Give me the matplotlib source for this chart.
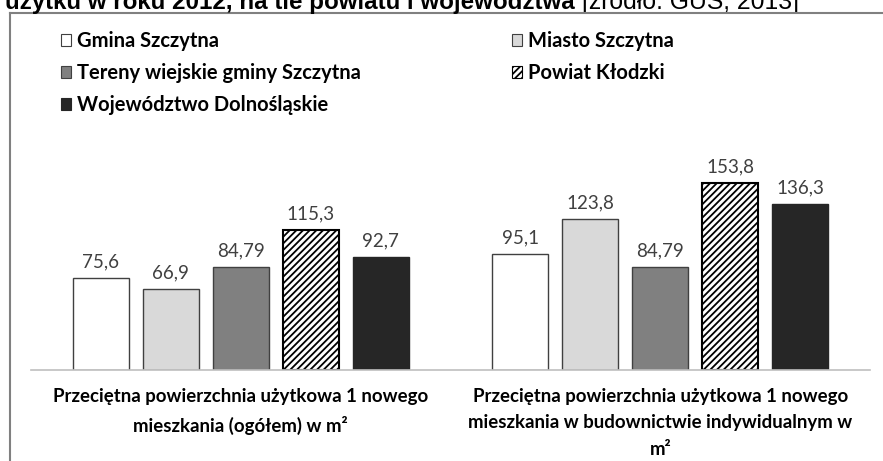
import matplotlib
matplotlib.use("Agg")
import matplotlib.pyplot as plt
from matplotlib.patches import Patch
from matplotlib.lines import Line2D
import numpy as np

categories = [
    "Przeciętna powierzchnia użytkowa 1 nowego\nmieszkania (ogółem) w m²",
    "Przeciętna powierzchnia użytkowa 1 nowego\nmieszkania w budownictwie indywidualnym w\nm²",
]
series_names = ["Gmina Szczytna", "Miasto Szczytna", "Tereny wiejskie gminy Szczytna",
                "Powiat Kłodzki", "Województwo Dolnośląskie"]
gmina = [75.6, 95.1]
miasto = [66.9, 123.8]
tereny = [84.79, 84.79]
powiat = [115.3, 153.8]
wojewodztwo = [92.7, 136.3]
value_labels = [["75,6", "95,1"], ["66,9", "123,8"], ["84,79", "84,79"],
                ["115,3", "153,8"], ["92,7", "136,3"]]

series = [gmina, miasto, tereny, powiat, wojewodztwo]
faces = ["white", "#d9d9d9", "#808080", "white", "#262626"]
edges = ["#404040", "#404040", "#404040", "black", "#262626"]
hatches = [None, None, None, "/////", None]
lws = [1.0, 1.0, 1.0, 1.5, 1.0]

FONT = ["Lato", "DejaVu Sans"]
plt.rcParams["font.family"] = FONT
plt.rcParams["hatch.linewidth"] = 1.3

W, H = 883, 461
fig = plt.figure(figsize=(W / 100, H / 100), dpi=100)
ax = fig.add_axes([30.75 / W, (H - 370) / H, 839.5 / W, 219 / H])

x = np.arange(len(categories))
pitch = 70 / 420
width = 56 / 420
for j, (vals, fc, ec, ht, lw) in enumerate(zip(series, faces, edges, hatches, lws)):
    pos = x + (j - 2) * pitch
    ax.bar(pos, vals, width=width, facecolor=fc, edgecolor=ec, hatch=ht,
           linewidth=lw, label=series_names[j], zorder=2)
    for p, v, t in zip(pos, vals, value_labels[j]):
        ax.annotate(t, (p, v), xytext=(0, 5.5), textcoords="offset points",
                    ha="center", va="bottom", fontsize=13.5, color="#404040")

ax.set_xlim(-0.5, 1.5)
ax.set_ylim(0, 180)
ax.set_yticks([])
ax.set_xticks(x)
ax.set_xticklabels(categories, fontsize=13.4, fontweight="bold", linespacing=1.67)
ax.tick_params(axis="x", length=0, pad=13)
for s in ["top", "right", "left"]:
    ax.spines[s].set_visible(False)
ax.spines["bottom"].set_color("#bfbfbf")
ax.spines["bottom"].set_linewidth(1.2)
ax.patch.set_visible(False)

# legend (two columns, row-wise ordering)
handles = [Patch(facecolor=fc, edgecolor=ec, hatch=ht, linewidth=0.8)
           for fc, ec, ht in zip(faces, edges, hatches)]
col1 = [0, 2, 4]
col2 = [1, 3]
for idxs, xpx in [(col1, 61), (col2, 512)]:
    leg = fig.legend([handles[i] for i in idxs], [series_names[i] for i in idxs],
                     loc="upper left", bbox_to_anchor=(xpx / W, 1 - 31 / H),
                     frameon=False, borderpad=0, borderaxespad=0,
                     handlelength=0.5, handleheight=0.5, handletextpad=0.3,
                     labelspacing=0.6, prop={"weight": "bold", "size": 14.5})

# frame
fc = "#808080"
fig.add_artist(Line2D([10 / W, 10 / W], [0, 1 - 13 / H], transform=fig.transFigure,
                      color=fc, linewidth=1.5))
fig.add_artist(Line2D([10 / W, 1], [1 - 13 / H, 1 - 13 / H], transform=fig.transFigure,
                      color=fc, linewidth=1.5))

# cropped title (top part lies outside the picture, as in the source)
t1 = fig.text(5 / W, 1 - 9 / H, "użytku w roku 2012, na tle powiatu i województwa",
              family=["Liberation Sans", "DejaVu Sans"], fontweight="bold", fontsize=17.4,
              va="baseline", ha="left")
fig.text(0, 0, "[źródło: GUS, 2013]", family=["Liberation Sans", "DejaVu Sans"],
         fontsize=17.8, va="baseline", ha="left")
fig.texts[-1].remove()
ax.annotate("[źródło: GUS, 2013]", xy=(1, 0), xycoords=t1, xytext=(5, 0),
            textcoords="offset points", family=["Liberation Sans", "DejaVu Sans"],
            fontsize=17.8, va="bottom", ha="left", annotation_clip=False)

fig.savefig("out.png", dpi=100)
